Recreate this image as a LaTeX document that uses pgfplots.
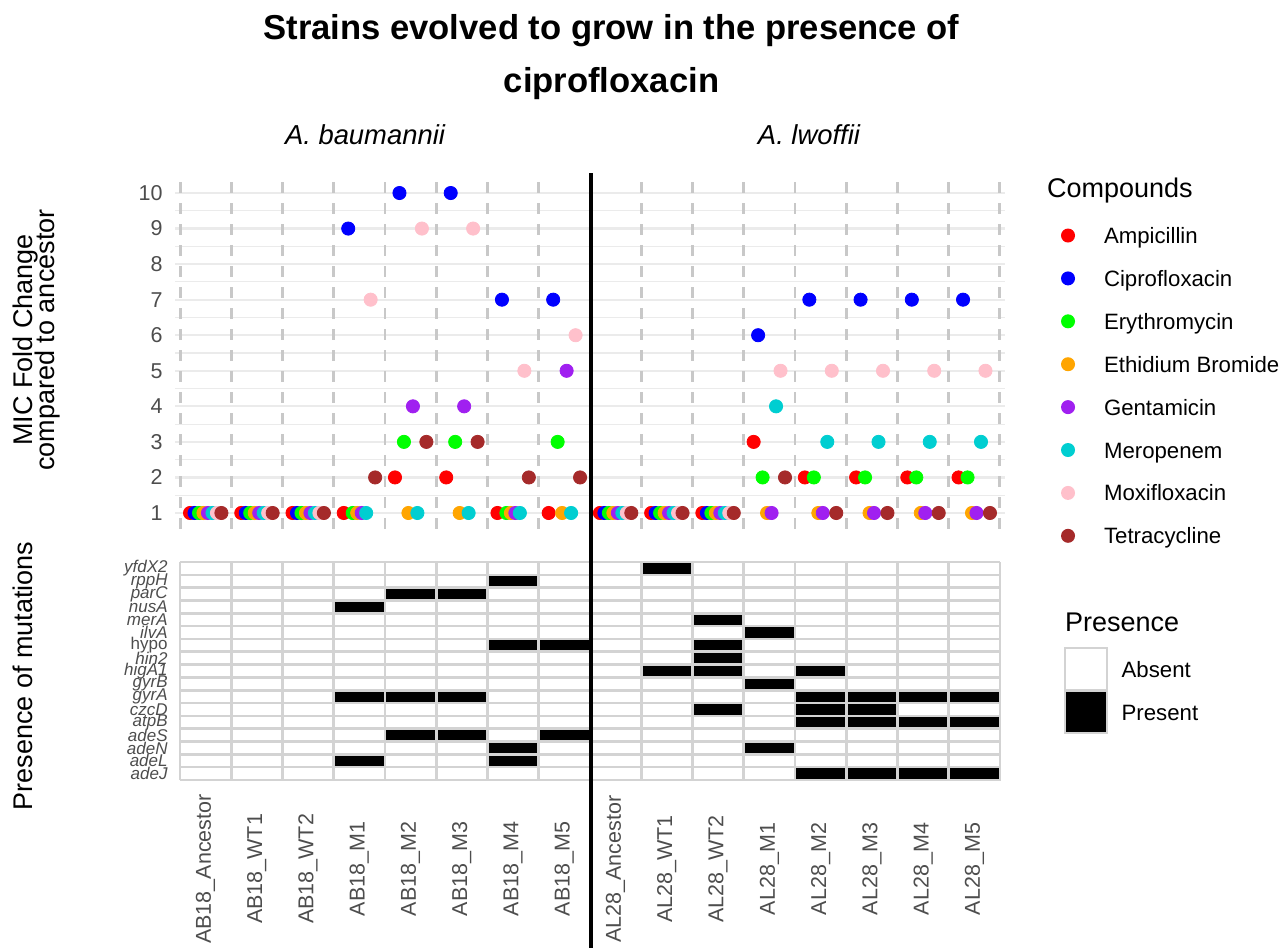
\documentclass[border=0pt]{standalone}
\usepackage{fontspec}
\setmainfont{Liberation Sans}
\usepackage{pgfplots}
\usepackage{pgfplotstable}
\pgfplotsset{compat=1.18}
\definecolor{gthirty}{HTML}{4D4D4D}
\definecolor{gridc}{HTML}{EBEBEB}
\definecolor{lgc}{HTML}{D3D3D3}
\definecolor{dashc}{HTML}{C8C8C8}
\definecolor{cAmp}{HTML}{FF0000}
\definecolor{cCip}{HTML}{0000FF}
\definecolor{cEry}{HTML}{00FF00}
\definecolor{cEtb}{HTML}{FFA500}
\definecolor{cGen}{HTML}{A020F0}
\definecolor{cMer}{HTML}{00CED1}
\definecolor{cMox}{HTML}{FFC0CB}
\definecolor{cTet}{HTML}{A52A2A}

\pgfplotstableread{
s  amp cip ery etb gen mer mox tet
1  1   1   1   1   1   1   1   1
2  1   1   1   1   1   1   1   1
3  1   1   1   1   1   1   1   1
4  1   9   1   1   1   1   7   2
5  2   10  3   1   4   1   9   3
6  2   10  3   1   4   1   9   3
7  1   7   1   1   1   1   5   2
8  1   7   3   1   5   1   6   2
9  1   1   1   1   1   1   1   1
10 1   1   1   1   1   1   1   1
11 1   1   1   1   1   1   1   1
12 3   6   2   1   1   4   5   2
13 2   7   2   1   1   3   5   1
14 2   7   2   1   1   3   5   1
15 2   7   2   1   1   3   5   1
16 2   7   2   1   1   3   5   1
}\mic

\pgfplotsset{
  cdot/.style={only marks, mark=*, mark size=3.3pt, color=#1,
    legend image code/.code={\path[draw=none, fill=none] (0pt,0pt) -- (21.5pt,0pt); \fill[#1, draw=none] (3.5pt,1.25pt) circle[radius=3.5pt];}},
}
\newcommand{\tickfont}{\fontsize{10.75}{12}\selectfont}
\newcommand{\legfont}{\fontsize{11.1}{13}\selectfont}
\newcommand{\axtfont}{\fontsize{13.5}{15}\selectfont}

\begin{document}
\begin{tikzpicture}
\path[use as bounding box] (0pt,0pt) rectangle (640.5pt,474pt);

% ---------------- top panel: MIC fold change ----------------
\begin{axis}[
  at={(87.5pt,209.5pt)}, anchor=south west,
  scale only axis, width=415pt, height=176pt,
  xmin=0.4, xmax=16.6, ymin=0.55, ymax=10.45,
  axis line style={draw=none}, tick style={draw=none},
  major tick length=0pt, minor tick length=0pt,
  xtick=\empty,
  ytick={1,2,3,4,5,6,7,8,9,10},
  minor ytick={1.5,2.5,3.5,4.5,5.5,6.5,7.5,8.5,9.5},
  ymajorgrids, yminorgrids,
  major grid style={draw=gridc, line width=1.1pt},
  minor grid style={draw=gridc, line width=0.55pt},
  yticklabel style={font=\tickfont, text=gthirty, inner sep=0pt},
  yticklabel shift=6pt,
  /pgf/number format/assume math mode=true,
  extra x ticks={0.5,1.5,2.5,3.5,4.5,5.5,6.5,7.5,8.5,9.5,10.5,11.5,12.5,13.5,14.5,15.5,16.5},
  extra x tick labels={},
  extra x tick style={grid=major, major grid style={draw=dashc, line width=1.4pt, dash pattern=on 5.25pt off 5.25pt}},
  clip=false,
  legend cell align=left,
  legend style={at={(1.0675,0.8565)}, anchor=north west, draw=none, fill=none,
    inner sep=0pt, outer sep=0pt, row sep=10.95pt, column sep=0pt, font=\legfont,
    nodes={inner sep=0pt, text height=8pt, text depth=2.5pt}},
]
\addplot[cdot=cAmp] table[x expr=\thisrow{s}-0.30625, y=amp] {\mic};
\addlegendentry{Ampicillin}
\addplot[cdot=cCip] table[x expr=\thisrow{s}-0.21875, y=cip] {\mic};
\addlegendentry{Ciprofloxacin}
\addplot[cdot=cEry] table[x expr=\thisrow{s}-0.13125, y=ery] {\mic};
\addlegendentry{Erythromycin}
\addplot[cdot=cEtb] table[x expr=\thisrow{s}-0.04375, y=etb] {\mic};
\addlegendentry{Ethidium Bromide}
\addplot[cdot=cGen] table[x expr=\thisrow{s}+0.04375, y=gen] {\mic};
\addlegendentry{Gentamicin}
\addplot[cdot=cMer] table[x expr=\thisrow{s}+0.13125, y=mer] {\mic};
\addlegendentry{Meropenem}
\addplot[cdot=cMox] table[x expr=\thisrow{s}+0.21875, y=mox] {\mic};
\addlegendentry{Moxifloxacin}
\addplot[cdot=cTet] table[x expr=\thisrow{s}+0.30625, y=tet] {\mic};
\addlegendentry{Tetracycline}
\end{axis}

% ---------------- bottom panel: presence of mutations ----------------
\begin{axis}[
  at={(90pt,84pt)}, anchor=south west,
  scale only axis, width=410pt, height=109pt,
  xmin=0.5, xmax=16.5, ymin=0.5, ymax=17.5,
  axis line style={draw=none}, tick style={draw=none},
  major tick length=0pt, minor tick length=0pt,
  xtick={1,2,3,4,5,6,7,8,9,10,11,12,13,14,15,16},
  xticklabels={AB18\_Ancestor,AB18\_WT1,AB18\_WT2,AB18\_M1,AB18\_M2,AB18\_M3,AB18\_M4,AB18\_M5,
               AL28\_Ancestor,AL28\_WT1,AL28\_WT2,AL28\_M1,AL28\_M2,AL28\_M3,AL28\_M4,AL28\_M5},
  ytick={1,2,3,4,5,6,7,8,9,10,11,12,13,14,15,16,17},
  yticklabels={adeJ,adeL,adeN,adeS,atpB,czcD,gyrA,gyrB,higA1,hin2,{\upshape hypo},ilvA,merA,nusA,parC,rppH,yfdX2},
  minor xtick={0.5,1.5,2.5,3.5,4.5,5.5,6.5,7.5,8.5,9.5,10.5,11.5,12.5,13.5,14.5,15.5,16.5},
  minor ytick={0.5,1.5,2.5,3.5,4.5,5.5,6.5,7.5,8.5,9.5,10.5,11.5,12.5,13.5,14.5,15.5,16.5,17.5},
  xminorgrids, yminorgrids,
  minor grid style={draw=lgc, line width=1.3pt},
  xticklabel style={font=\tickfont, text=gthirty, rotate=90, anchor=center},
  xticklabel shift=44.5pt,
  yticklabel style={font=\fontsize{8.5}{9}\selectfont\itshape, text=gthirty, inner sep=0pt, anchor=east},
  yticklabel shift=6pt,
  clip=false,
  legend cell align=left,
  legend style={at={(1.078,0.6101)}, anchor=north west, draw=none, fill=none,
    inner sep=0pt, outer sep=0pt, row sep=-0.5pt, column sep=0pt, font=\legfont,
    nodes={inner sep=0pt, text height=8pt, text depth=2.5pt}},
]
\addlegendimage{legend image code/.code={\draw[fill=white, draw=lgc, line width=1pt] (0pt,-9pt) rectangle (21pt,12pt); \path[draw=none] (28.35pt,0pt);}}
\addlegendentry{Absent}
\addplot[only marks, mark=square*, mark size=3.206pt, color=black,
  mark options={xscale=3.9965, fill=black, draw=lgc, line width=1.3pt},
  legend image code/.code={\draw[fill=black, draw=lgc, line width=1pt] (0pt,-9pt) rectangle (21pt,12pt); \path[draw=none] (28.35pt,0pt);}]
coordinates {
 (7,16) (5,15) (6,15) (4,14) (7,11) (8,11) (4,7) (5,7) (6,7)
 (5,4) (6,4) (8,4) (7,3) (4,2) (7,2)
 (10,17) (11,13) (12,12) (11,11) (11,10) (10,9) (11,9) (13,9) (12,8)
 (13,7) (14,7) (15,7) (16,7) (11,6) (13,6) (14,6)
 (13,5) (14,5) (15,5) (16,5) (12,3) (13,1) (14,1) (15,1) (16,1)
};
\addlegendentry{Present}
\end{axis}

% separator
\draw[line width=1.75pt] (295.6pt,0pt) -- (295.6pt,387.5pt);

% titles
\begin{scope}[every node/.style={inner sep=0pt, outer sep=0pt}]
\node[anchor=base, font=\fontsize{17.3}{20}\selectfont\bfseries] at (305.75pt,454pt) {Strains evolved to grow in the presence of};
\node[anchor=base, font=\fontsize{17.3}{20}\selectfont\bfseries] at (305.75pt,427.5pt) {ciprofloxacin};
\node[anchor=base, font=\fontsize{13.7}{16}\selectfont\itshape] at (182.5pt,401.5pt) {A. baumannii};
\node[anchor=base, font=\fontsize{13.7}{16}\selectfont\itshape] at (404.5pt,401.5pt) {A. lwoffii};
\node[anchor=base, rotate=90, font=\axtfont] at (16.5pt,304pt) {MIC Fold Change};
\node[anchor=base, rotate=90, font=\axtfont] at (27.5pt,304pt) {compared to ancestor};
\node[anchor=base, rotate=90, font=\axtfont] at (16.5pt,136pt) {Presence of mutations};
\node[anchor=base west, font=\axtfont] at (523.5pt,375pt) {Compounds};
\node[anchor=base west, font=\axtfont] at (532.5pt,158.15pt) {Presence};
\end{scope}
\end{tikzpicture}
\end{document}
